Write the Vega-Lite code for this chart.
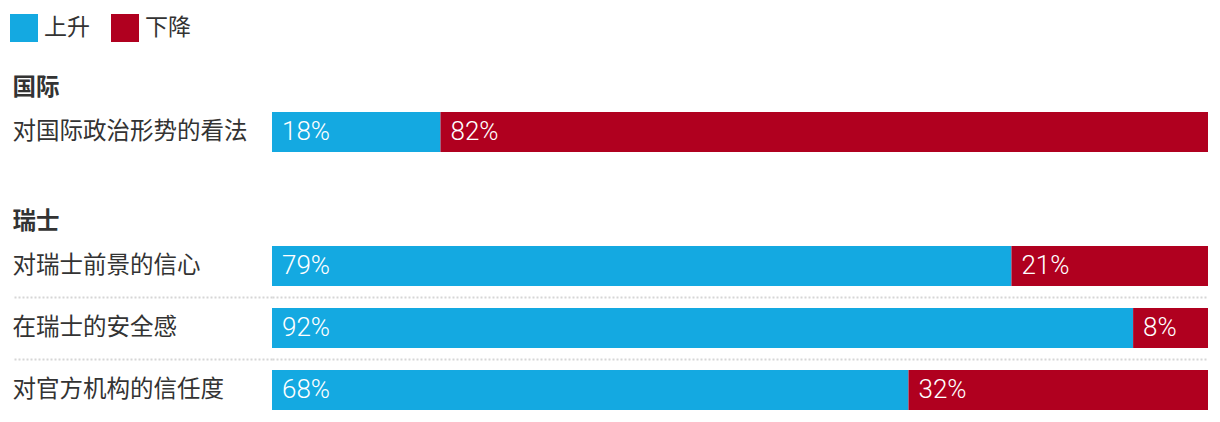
{
  "$schema": "https://vega.github.io/schema/vega-lite/v6.json",
  "padding": {"top": 14, "left": 10, "right": 12, "bottom": 0},
  "background": "white",
  "bounds": "flush",
  "spacing": 72,
  "config": {
    "view": {"stroke": null},
    "font": "Noto Sans CJK SC"
  },
  "datasets": {
    "intl": [
      {"item": "对国际政治形势的看法", "direction": "上升", "value": 18},
      {"item": "对国际政治形势的看法", "direction": "下降", "value": 82}
    ],
    "swiss": [
      {"item": "对瑞士前景的信心", "direction": "上升", "value": 79},
      {"item": "对瑞士前景的信心", "direction": "下降", "value": 21},
      {"item": "在瑞士的安全感", "direction": "上升", "value": 92},
      {"item": "在瑞士的安全感", "direction": "下降", "value": 8},
      {"item": "对官方机构的信任度", "direction": "上升", "value": 68},
      {"item": "对官方机构的信任度", "direction": "下降", "value": 32}
    ]
  },
  "vconcat": [
    {
      "width": 936,
      "height": {"step": 62},
      "data": {"name": "intl"},
      "transform": [
        {"stack": "value", "groupby": ["item"], "sort": [{"field": "direction", "order": "ascending"}], "as": ["start", "end"]},
        {"calculate": "datum.value + '%'", "as": "pct"}
      ],
      "encoding": {
        "y": {
          "field": "item", "type": "nominal", "sort": null,
          "scale": {"paddingInner": 0, "paddingOuter": 0},
          "axis": {
            "title": "国际", "titleAngle": 0, "titleX": -260, "titleY": -14,
            "titleAlign": "left", "titleBaseline": "middle", "titleFontSize": 23.5,
            "titleFontWeight": "bold", "titleColor": "#333333", "titleFont": "Noto Sans CJK SC",
            "domain": false, "ticks": true, "tickSize": 260, "tickOpacity": 0,
            "grid": false, "bandPosition": 0,
            "labelAlign": "left", "labelPadding": 0, "labelFontSize": 23.5,
            "labelColor": "#333333", "labelFont": "Noto Sans CJK SC", "labelLimit": 0
          }
        }
      },
      "layer": [
        {
          "mark": {"type": "bar", "height": {"band": 0.645}},
          "encoding": {
            "x": {"field": "start", "type": "quantitative", "scale": {"domain": [0, 100], "nice": false, "zero": true}, "axis": null},
            "x2": {"field": "end"},
            "color": {
              "field": "direction", "type": "nominal",
              "scale": {"domain": ["上升", "下降"], "range": ["#14a9e1", "#b0001f"]},
              "legend": {
                "title": null, "orient": "none", "legendX": -262, "legendY": -87,
                "direction": "horizontal", "symbolType": "square", "symbolSize": 784,
                "symbolStrokeWidth": 0, "symbolOpacity": 1, "labelFontSize": 23,
                "labelColor": "#333333", "labelFont": "Noto Sans CJK SC", "labelOffset": 6,
                "columnPadding": 21, "padding": 0
              }
            }
          }
        },
        {
          "mark": {"type": "text", "align": "left", "baseline": "middle", "dx": 10, "fontSize": 26, "font": "Roboto", "fontWeight": 300, "color": "white"},
          "encoding": {
            "x": {"field": "start", "type": "quantitative"},
            "text": {"field": "pct"}
          }
        }
      ]
    },
    {
      "width": 936,
      "height": {"step": 62},
      "data": {"name": "swiss"},
      "transform": [
        {"stack": "value", "groupby": ["item"], "sort": [{"field": "direction", "order": "ascending"}], "as": ["start", "end"]},
        {"calculate": "datum.value + '%'", "as": "pct"}
      ],
      "encoding": {
        "y": {
          "field": "item", "type": "nominal", "sort": null,
          "scale": {"paddingInner": 0, "paddingOuter": 0},
          "axis": {
            "title": "瑞士", "titleAngle": 0, "titleX": -260, "titleY": -14,
            "titleAlign": "left", "titleBaseline": "middle", "titleFontSize": 23.5,
            "titleFontWeight": "bold", "titleColor": "#333333", "titleFont": "Noto Sans CJK SC",
            "domain": false, "ticks": true, "tickSize": 260,
            "tickColor": "#d6d6d6", "tickDash": [2, 2], "tickWidth": 2,
            "tickOpacity": {"condition": {"test": "datum.value === '对瑞士前景的信心'", "value": 0}, "value": 1},
            "grid": true, "gridColor": "#d6d6d6", "gridDash": [2, 2], "gridWidth": 2,
            "gridOpacity": {"condition": {"test": "datum.value === '对瑞士前景的信心'", "value": 0}, "value": 1},
            "bandPosition": 0,
            "labelAlign": "left", "labelPadding": 0, "labelFontSize": 23.5,
            "labelColor": "#333333", "labelFont": "Noto Sans CJK SC", "labelLimit": 0
          }
        }
      },
      "layer": [
        {
          "mark": {"type": "bar", "height": {"band": 0.645}},
          "encoding": {
            "x": {"field": "start", "type": "quantitative", "scale": {"domain": [0, 100], "nice": false, "zero": true}, "axis": null},
            "x2": {"field": "end"},
            "color": {
              "field": "direction", "type": "nominal",
              "scale": {"domain": ["上升", "下降"], "range": ["#14a9e1", "#b0001f"]},
              "legend": null
            }
          }
        },
        {
          "mark": {"type": "text", "align": "left", "baseline": "middle", "dx": 10, "fontSize": 26, "font": "Roboto", "fontWeight": 300, "color": "white"},
          "encoding": {
            "x": {"field": "start", "type": "quantitative"},
            "text": {"field": "pct"}
          }
        }
      ]
    }
  ],
  "resolve": {"scale": {"color": "shared"}}
}
